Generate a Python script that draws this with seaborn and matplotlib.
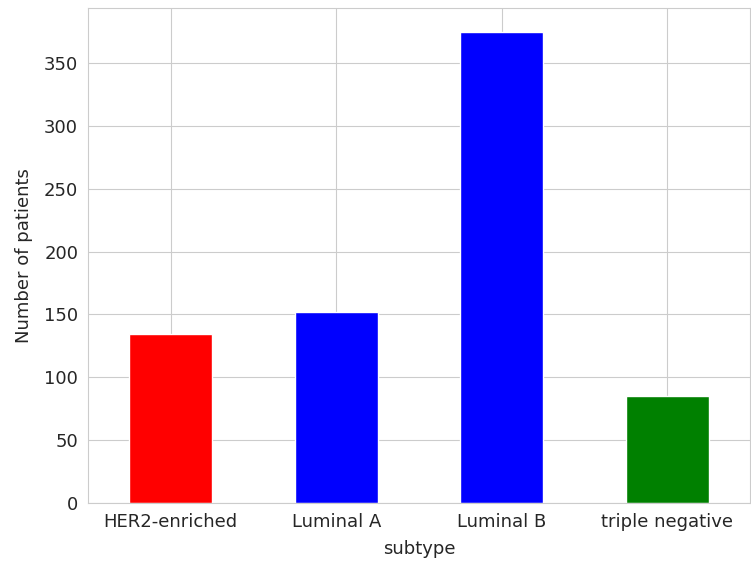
import matplotlib
matplotlib.use("Agg")
import pandas as pd
import matplotlib.pyplot as plt
import seaborn as sns

sns.set_style("whitegrid")

# data
subtypes = ["HER2-enriched", "Luminal A", "Luminal B", "triple negative"]
patients = [134, 152, 375, 85]
bar_colors = ["red", "blue", "blue", "green"]

df = pd.DataFrame({"subtype": subtypes, "patients": patients})

fig = plt.figure(figsize=(7.51, 5.67), dpi=100)
ax = fig.add_axes([0.117, 0.113, 0.882, 0.873])
sns.barplot(data=df, x="subtype", y="patients", hue="subtype",
            palette=bar_colors, width=0.5, saturation=1, legend=False, ax=ax)

ax.set_xlim(-0.5, 3.5)
ax.set_ylim(0, max(patients) * 1.05)
ax.grid(True, axis="both", color="#cccccc")
ax.set_axisbelow(True)
ax.set_xlabel("subtype", fontsize=13, labelpad=7)
ax.set_ylabel("Number of patients", fontsize=13, labelpad=8)
ax.tick_params(labelsize=13)
for s in ax.spines.values():
    s.set_color("#cccccc")

fig.savefig("out.png", dpi=100)
